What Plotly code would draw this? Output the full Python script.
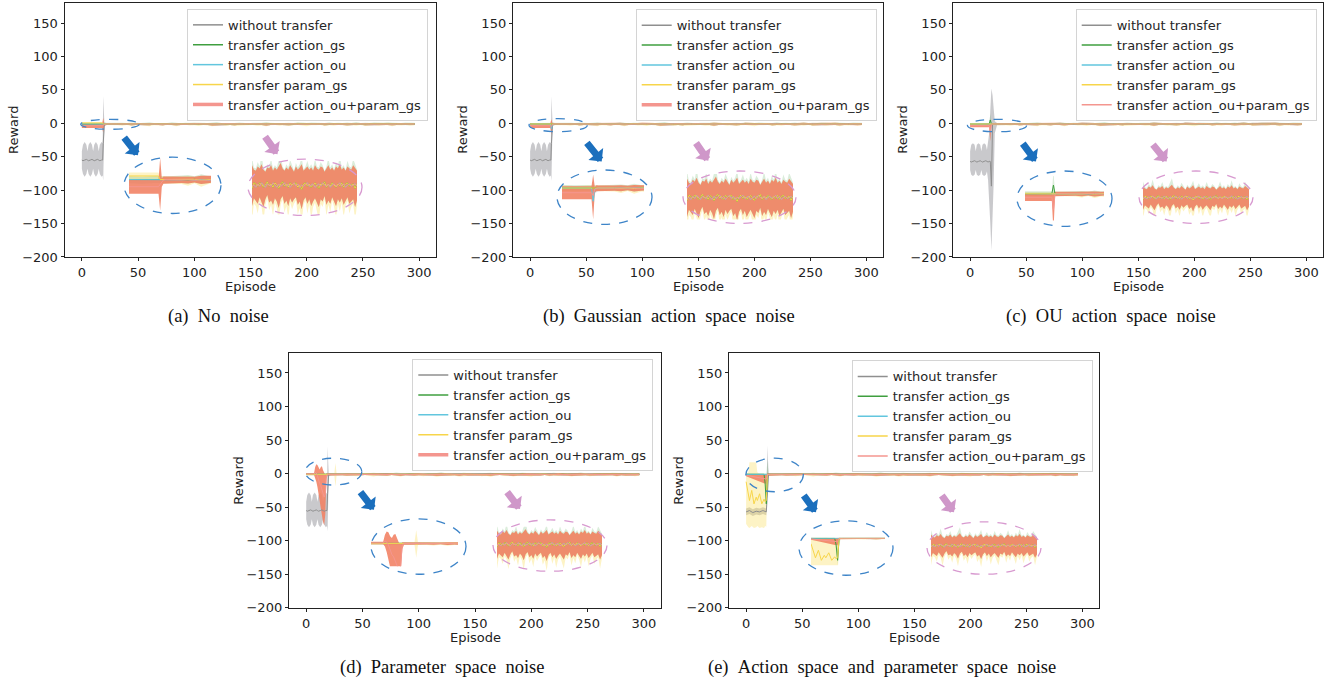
import plotly.graph_objects as go

W, H = 1341, 689
FONT = "DejaVu Sans"
SERIF = "Liberation Serif"

# ------------------------------------------------------------------ data
LEGEND_LABELS = ["without transfer", "transfer action_gs", "transfer action_ou",
                 "transfer param_gs", "transfer action_ou+param_gs"]
CAPTIONS = ["(a) No noise", "(b) Gaussian action space noise", "(c) OU action space noise",
            "(d) Parameter space noise", "(e) Action space and parameter space noise"]
X_TICKS = [0, 50, 100, 150, 200, 250, 300]
Y_TICKS = [-200, -150, -100, -50, 0, 50, 100, 150]

# converged phase (episodes 32..296), shared by all panels
LATE_EP = list(range(32, 300, 4))
LATE_HI = [0.3, 0.5, 0.2, 0.6, 0.4, 0.1, 0.5, 0.7, 0.3, 0.2,
           0.6, 0.4, 0.8, 0.3, 0.1, 0.5, 0.4, 0.7, 0.2, 0.5,
           0.3, 0.6, 0.9, 0.4, 0.2, 0.5, 0.3, 0.7, 0.4, 0.1,
           0.6, 0.3, 0.5, 0.8, 0.2, 0.4, 0.6, 0.3, 0.5, 0.2,
           0.7, 0.4, 0.3, 0.6, 0.5, 0.1, 0.4, 0.7, 0.3, 0.5,
           0.2, 0.6, 0.4, 0.8, 0.3, 0.5, 0.2, 0.6, 0.4, 0.3,
           0.7, 0.5, 0.2, 0.4, 0.6, 0.3, 0.5]
LATE_LO = [-2.4, -2.7, -2.2, -2.9, -2.5, -2.1, -2.6, -3.0, -2.3, -2.5,
           -2.8, -2.2, -2.6, -3.1, -2.4, -2.0, -2.7, -2.5, -2.9, -2.3,
           -2.6, -3.2, -2.4, -2.1, -2.8, -2.5, -3.0, -2.3, -2.7, -2.4,
           -2.2, -2.9, -2.6, -3.3, -2.5, -2.2, -2.8, -2.4, -3.0, -2.6,
           -2.3, -2.7, -3.1, -2.4, -2.6, -2.1, -2.9, -2.5, -2.8, -2.2,
           -2.6, -3.0, -2.4, -2.7, -2.3, -2.9, -2.5, -2.2, -2.8, -2.6,
           -2.4, -3.1, -2.5, -2.7, -2.3, -2.8, -2.5]
LATE_FHI = [0.7, 0.9, 0.4, 1.2, 0.6, 0.3, 0.8, 1.4, 0.5, 0.4,
            1.0, 0.6, 1.7, 0.5, 0.2, 0.8, 0.6, 1.3, 0.4, 0.7,
            0.5, 1.1, 1.9, 0.6, 0.3, 0.8, 0.5, 1.2, 0.7, 0.2,
            0.9, 0.5, 0.8, 1.5, 0.3, 0.6, 1.1, 0.5, 0.8, 0.4,
            1.3, 0.6, 0.5, 1.0, 0.7, 0.2, 0.6, 1.4, 0.5, 0.8,
            0.3, 1.0, 0.6, 1.6, 0.5, 0.7, 0.3, 1.1, 0.6, 0.5,
            1.3, 0.8, 0.3, 0.6, 1.0, 0.5, 0.7]
LATE_FLO = [-2.9, -3.6, -2.6, -4.0, -3.0, -2.4, -3.2, -4.3, -2.8, -3.0,
            -3.7, -2.6, -3.1, -4.4, -2.9, -2.3, -3.4, -2.9, -3.9, -2.7,
            -3.2, -4.5, -2.9, -2.4, -3.6, -3.0, -4.1, -2.7, -3.3, -2.8,
            -2.5, -3.8, -3.2, -4.6, -2.9, -2.5, -3.7, -2.8, -4.2, -3.1,
            -2.7, -3.4, -4.3, -2.8, -3.1, -2.4, -3.9, -2.9, -3.6, -2.5,
            -3.1, -4.1, -2.8, -3.5, -2.7, -4.0, -3.0, -2.5, -3.7, -3.1,
            -2.8, -4.3, -2.9, -3.4, -2.6, -3.8, -3.0]
LATE_MEAN_A = [-1.0, -1.2, -0.9, -1.3, -1.0, -0.8, -1.1, -1.4, -0.9, -1.0,
               -1.2, -0.9, -1.0, -1.3, -1.1, -0.8, -1.2, -1.0, -1.3, -0.9,
               -1.1, -1.4, -1.0, -0.8, -1.2, -1.0, -1.3, -0.9, -1.1, -1.0,
               -0.9, -1.3, -1.1, -1.5, -1.0, -0.9, -1.2, -1.0, -1.3, -1.1,
               -0.9, -1.2, -1.4, -1.0, -1.1, -0.8, -1.3, -1.0, -1.2, -0.9,
               -1.1, -1.3, -1.0, -1.2, -0.9, -1.3, -1.0, -0.9, -1.2, -1.1,
               -1.0, -1.4, -1.0, -1.2, -0.9, -1.2, -1.0]
LATE_MEAN_B = [-1.1, -1.0, -1.2, -1.0, -1.3, -1.0, -0.9, -1.2, -1.1, -1.3,
               -1.0, -1.2, -0.9, -1.1, -1.3, -1.0, -1.1, -1.2, -0.9, -1.1,
               -1.3, -1.0, -1.2, -1.1, -0.9, -1.2, -1.0, -1.3, -1.1, -0.9,
               -1.2, -1.0, -1.3, -1.1, -1.2, -1.0, -0.9, -1.2, -1.1, -1.0,
               -1.3, -1.1, -1.0, -1.2, -0.9, -1.1, -1.2, -1.0, -1.3, -1.1,
               -1.0, -1.2, -1.1, -0.9, -1.2, -1.0, -1.3, -1.1, -1.0, -1.2,
               -1.1, -1.0, -1.2, -1.1, -1.3, -1.0, -1.1]

# early phase key points (episode, mean, lower, upper)
BASE_X = [0, 8, 16, 22]
BASE_MEAN = [-1.0, -1.1, -0.9, -1.0]
BASE_HI = [0.4, 0.2, 0.5, 0.3]
BASE_LO = [-2.5, -2.8, -2.4, -2.6]

WT_BASE_X = [0, 1, 2.5, 4, 5, 6, 7.5, 9, 10, 11, 12.5, 14, 15, 16, 17.5, 18.5, 19, 20, 22]
WT_BASE_MEAN = [-55, -56, -55, -54, -55, -56, -55, -54, -55, -56, -55, -54, -55, -56, -55, -55, -30, -1.5, -1.0]
WT_BASE_HI = [-42, -32, -28, -32, -42, -32, -28, -32, -42, -32, -28, -32, -42, -32, -28, -30, 41, 1.0, 0.3]
WT_BASE_LO = [-68, -76, -80, -76, -68, -76, -80, -76, -68, -76, -80, -76, -68, -76, -80, -78, -86, -4.0, -2.6]

WT_C_X = [0, 1, 2.5, 4, 5, 6, 7.5, 9, 10, 11, 12.5, 14, 15, 16, 17, 18, 19, 20, 21, 22, 24]
WT_C_MEAN = [-57, -58, -57, -56, -57, -58, -57, -56, -57, -58, -57, -56, -57, -58, -57, -57, -94, -2.0, -1.5, -1.2, -1.0]
WT_C_HI = [-42, -32, -30, -32, -42, -32, -30, -32, -42, -32, -30, -32, -40, -30, -15, 20, 52, 42, 15, 3, 0.5]
WT_C_LO = [-70, -77, -79, -77, -70, -77, -79, -77, -70, -77, -79, -77, -72, -85, -105, -150, -190, -165, -90, -15, -3]

WT_E_X = [0, 3, 6, 9, 12, 15, 18, 19, 20, 22]
WT_E_MEAN = [-57, -55, -58, -56, -57, -55, -57, -20, -1.5, -1.0]
WT_E_HI = [-52, -50, -53, -51, -52, -50, -52, 42, 1.0, 0.3]
WT_E_LO = [-62, -60, -63, -61, -62, -60, -62, -12, -3.0, -2.6]

MIX_A_X = [0, 18, 19, 20, 21, 22]
MIX_A_MEAN = [-4.0, -4.0, -3.0, -1.8, -1.2, -1.0]
MIX_A_HI = [-1.0, -1.0, 8.0, -0.5, 0.3, 0.3]
MIX_A_LO = [-7.0, -7.0, -14.0, -4.0, -2.8, -2.6]

PGS_A_X = [0, 18, 19, 22]
PGS_A_MEAN = [0.5, 0.5, -1.0, -1.0]
PGS_A_HI = [2.0, 2.0, 0.5, 0.3]
PGS_A_LO = [-1.0, -1.0, -2.5, -2.6]

MIX_B_X = [0, 18, 19, 20, 21, 22]
MIX_B_MEAN = [-3.5, -3.5, -5.0, -1.5, -1.1, -1.0]
MIX_B_HI = [0.0, 0.0, 6.0, -0.5, 0.4, 0.3]
MIX_B_LO = [-7.0, -7.0, -17.5, -3.5, -2.7, -2.6]

AOU_B_X = [0, 18, 19, 20, 22]
AOU_B_MEAN = [-1.0, -1.0, -8.0, -1.5, -1.0]
AOU_B_HI = [0.5, 0.5, 0.0, 0.5, 0.3]
AOU_B_LO = [-2.5, -2.5, -14.0, -4.0, -2.6]

MIX_C_X = [0, 17, 18, 19, 20, 22]
MIX_C_MEAN = [-3.5, -3.5, -12.0, -1.5, -1.1, -1.0]
MIX_C_HI = [-1.0, -1.0, -0.5, 0.4, 0.3, 0.3]
MIX_C_LO = [-6.0, -6.0, -27.0, -2.8, -2.6, -2.6]

AGS_C_X = [0, 17, 18, 19, 22]
AGS_C_MEAN = [-1.0, -1.0, 5.0, -1.2, -1.0]
AGS_C_HI = [0.5, 0.5, 14.0, 0.4, 0.3]
AGS_C_LO = [-2.5, -2.5, -2.0, -2.6, -2.6]

MIX_D_X = [0, 7, 8, 9, 10, 11, 12, 13, 14, 15, 16, 17, 18, 19, 22]
MIX_D_MEAN = [-0.5, -0.5, 2, 1, -3, -10, -15, -18, -25, -30, -35, -30, -3, -1.1, -1.0]
MIX_D_HI = [1, 1, 10, 14, 13, 8, 6, 10, 11, 5, 0, -2, 0.5, 0.4, 0.3]
MIX_D_LO = [-2, -2, -5, -12, -20, -30, -40, -50, -62, -72, -77, -60, -8, -2.6, -2.6]

PGS_D_X = [0, 22, 25, 26, 27, 28]
PGS_D_MEAN = [-1.0, -1.0, -1.0, -2.0, -1.0, -1.0]
PGS_D_HI = [0.3, 0.3, 0.3, 16.0, 0.3, 0.3]
PGS_D_LO = [-2.6, -2.6, -2.6, -19.0, -2.6, -2.6]

MIX_E_X = [0, 17, 18, 19, 20, 22]
MIX_E_MEAN = [-2.5, -8.0, -8.0, -1.2, -1.0, -1.0]
MIX_E_HI = [-1.0, -1.0, -1.0, 0.4, 0.3, 0.3]
MIX_E_LO = [-4.0, -15.0, -15.0, -3.0, -2.6, -2.6]

PGS_E_X = [0, 2, 3, 5, 7, 9, 10, 12, 14, 16, 17, 18, 19, 22]
PGS_E_MEAN = [-12, -30, -40, -25, -45, -35, -40, -30, -45, -38, -42, -40, -1.2, -1.0]
PGS_E_HI = [0, 2, 17, 17, 17, 17, 2, 0, 0, 0, 0, 0, 0.5, 0.3]
PGS_E_LO = [-75, -80, -81, -78, -81, -80, -78, -81, -80, -81, -78, -79, -3, -2.6]

AGS_E_X = [0, 16, 17, 18, 19, 20, 22]
AGS_E_MEAN = [-1.0, -1.0, -15.0, -45.0, -1.0, -1.0, -1.0]
AGS_E_HI = [0.5, 0.5, 0.0, 0.0, 20.0, 0.4, 0.3]
AGS_E_LO = [-2.5, -2.5, -30.0, -55.0, -16.0, -2.6, -2.6]

# ------------------------------------------------------------------ assembly
BASE = (BASE_X, BASE_MEAN, BASE_LO, BASE_HI)
WT_BASE = (WT_BASE_X, WT_BASE_MEAN, WT_BASE_LO, WT_BASE_HI)
PANEL_SERIES = [
    [WT_BASE, BASE, BASE, (PGS_A_X, PGS_A_MEAN, PGS_A_LO, PGS_A_HI), (MIX_A_X, MIX_A_MEAN, MIX_A_LO, MIX_A_HI)],
    [WT_BASE, BASE, (AOU_B_X, AOU_B_MEAN, AOU_B_LO, AOU_B_HI), BASE, (MIX_B_X, MIX_B_MEAN, MIX_B_LO, MIX_B_HI)],
    [(WT_C_X, WT_C_MEAN, WT_C_LO, WT_C_HI), (AGS_C_X, AGS_C_MEAN, AGS_C_LO, AGS_C_HI), BASE, BASE,
     (MIX_C_X, MIX_C_MEAN, MIX_C_LO, MIX_C_HI)],
    [WT_BASE, BASE, BASE, (PGS_D_X, PGS_D_MEAN, PGS_D_LO, PGS_D_HI), (MIX_D_X, MIX_D_MEAN, MIX_D_LO, MIX_D_HI)],
    [(WT_E_X, WT_E_MEAN, WT_E_LO, WT_E_HI), (AGS_E_X, AGS_E_MEAN, AGS_E_LO, AGS_E_HI), BASE,
     (PGS_E_X, PGS_E_MEAN, PGS_E_LO, PGS_E_HI), (MIX_E_X, MIX_E_MEAN, MIX_E_LO, MIX_E_HI)],
]
# late-phase band / mean source per series: WT, AGS, AOU, PGS, MIX
LATE_BANDS = [(LATE_LO, LATE_HI), (LATE_LO, LATE_FHI), (LATE_LO, LATE_HI), (LATE_FLO, LATE_HI), (LATE_LO, LATE_HI)]
LATE_MEANS = [LATE_MEAN_B, LATE_MEAN_A, LATE_MEAN_B, LATE_MEAN_A, LATE_MEAN_B]

# ------------------------------------------------------------------ styles / layout (pixel specs)
LINE_COLORS = ["#8f8f8f", "#3f9f3f", "#62c6de", "#f7d54a", "#f4968f"]
FILL_COLORS = ["rgba(178,178,182,0.70)", "rgba(90,175,90,0.22)", "rgba(110,200,225,0.25)",
               "rgba(250,225,110,0.40)", "rgba(241,128,98,0.88)"]
BLUE, PINK = "#3d84c8", "#d89ad0"
ARROW_BLUE, ARROW_PINK = "#1b6fbd", "#cf97c9"

PANELS = [
    dict(ax=(65, 436, 3, 260), leg=(428, 9), legw=3.5, cap=(218, 320), ep_y=290, rw_x=14,
         mell=(-1, 51, -9, 6),
         bin=(129, 211, 158, 214, -14.4, 8.8), bell=(124, 221, 159, 216), barr=(123, 138, 138, 157),
         pin=(252, 357, 163, 217, -3.78, 1.08), pell=(248, 362, 161, 218), parr=(264, 137, 277.5, 156)),
    dict(ax=(513.3, 883.3, 3, 260), leg=(876.7, 9.3), legw=3.5, cap=(668.5, 320), ep_y=290, rw_x=462.7,
         mell=(-1, 51, -12.5, 7),
         bin=(562, 644, 174, 224, -18.7, 7.5), bell=(557, 652, 172, 227), barr=(585.7, 143.3, 601.7, 163.3),
         pin=(687, 793, 176, 222, -3.23, 1.16), pell=(683, 796, 173, 226), parr=(695, 143.3, 708.3, 162.7)),
    dict(ax=(953.3, 1323.3, 3, 260), leg=(1316.7, 9.3), legw=1.5, cap=(1111, 320), ep_y=290, rw_x=902.7,
         mell=(-2.4, 50.4, -12.7, 6),
         bin=(1025, 1104, 178, 223, -19.5, 11.3), bell=(1017, 1112, 173, 229), barr=(1021.7, 144, 1036, 163.3),
         pin=(1143, 1249, 180, 218, -3.9, 1.95), pell=(1139, 1253, 173, 226), parr=(1151.7, 145, 1166.7, 163.3)),
    dict(ax=(289.3, 660.7, 357, 615), leg=(653.3, 363.3), legw=3.5, cap=(442, 675), ep_y=645, rw_x=238.3,
         mell=(-1, 49.4, -17, 23),
         bin=(371, 458, 533, 573, -30, 20), bell=(371, 466, 525, 581), barr=(359.3, 496.7, 374, 515.7),
         pin=(497, 602, 533, 578, -4.66, 1.21), pell=(493, 607, 526, 578), parr=(506, 496.7, 520, 515)),
    dict(ax=(729.3, 1099.3, 357, 615), leg=(1092.7, 364.7), legw=1.5, cap=(881.7, 675), ep_y=645, rw_x=678.3,
         mell=(-0.3, 51, -27, 23),
         bin=(811, 885, 544, 572, -55, 0), bell=(799, 893, 527, 582), barr=(802.7, 500, 816, 518.3),
         pin=(931, 1037, 530, 574, -4.66, 2.45), pell=(927, 1041, 528, 581), parr=(940.7, 500, 954, 518.3)),
]
BLUE_XRANGE = [0, 50]
PINK_XRANGE = [60, 280]


def pxx(p):
    return p / W


def pxy(p):
    return 1 - p / H


def refs(n):
    return ("x" if n == 1 else f"x{n}"), ("y" if n == 1 else f"y{n}")


def keys(n):
    return ("xaxis" if n == 1 else f"xaxis{n}"), ("yaxis" if n == 1 else f"yaxis{n}")


fig = go.Figure()
layout = dict(width=W, height=H, margin=dict(l=0, r=0, t=0, b=0),
              paper_bgcolor="white", plot_bgcolor="rgba(0,0,0,0)", showlegend=True)
shapes, annotations = [], []

for si, (panel, series) in enumerate(zip(PANELS, PANEL_SERIES)):
    main_n, blue_n, pink_n = si + 1, si + 6, si + 11
    full = []
    for k, (ex, em, elo, ehi) in enumerate(series):
        lo_late, hi_late = LATE_BANDS[k]
        fx = list(ex) + LATE_EP
        full.append((fx, list(em) + LATE_MEANS[k], list(elo) + lo_late, list(ehi) + hi_late))

    for n in (main_n, blue_n, pink_n):
        xr, yr = refs(n)
        members = range(5) if n == main_n else range(1, 5)   # zoom insets show the transfer runs
        for k in members:
            fx, fm, flo, fhi = full[k]
            fig.add_trace(go.Scatter(x=fx + fx[::-1], y=fhi + flo[::-1], fill="toself",
                                     fillcolor=FILL_COLORS[k], line=dict(width=0), mode="lines",
                                     hoverinfo="skip", showlegend=False, xaxis=xr, yaxis=yr))
        for k in members:
            fx, fm, flo, fhi = full[k]
            fig.add_trace(go.Scatter(x=fx, y=fm, mode="lines", line=dict(color=LINE_COLORS[k], width=1),
                                     hoverinfo="skip", showlegend=False, xaxis=xr, yaxis=yr))

    # legend entries
    lname = "legend" if si == 0 else f"legend{si + 1}"
    xr, yr = refs(main_n)
    for k in range(5):
        fig.add_trace(go.Scatter(x=[None], y=[None], mode="lines", name=LEGEND_LABELS[k],
                                 line=dict(color=LINE_COLORS[k], width=panel["legw"] if k == 4 else 1.5),
                                 legend=lname, xaxis=xr, yaxis=yr))
    layout[lname] = dict(x=pxx(panel["leg"][0]), y=pxy(panel["leg"][1]), xanchor="right", yanchor="top",
                         bgcolor="rgba(255,255,255,0.85)", bordercolor="#d4d4d4", borderwidth=1,
                         font=dict(family=FONT, size=13, color="#262626"), itemwidth=30,
                         traceorder="normal", tracegroupgap=0)

    # main axes
    x0, x1, y0, y1 = panel["ax"]
    kx, ky = keys(main_n)
    common = dict(ticks="outside", ticklen=3.5, tickwidth=1, tickcolor="#222", showline=True, linecolor="#222",
                  linewidth=1, mirror=True, showgrid=False, zeroline=False,
                  tickfont=dict(family=FONT, size=13, color="#222"))
    layout[kx] = dict(domain=[pxx(x0), pxx(x1)], range=[-15, 315], tickvals=X_TICKS,
                      anchor=refs(main_n)[1], **common)
    layout[ky] = dict(domain=[pxy(y1), pxy(y0)], range=[-200, 180], tickvals=Y_TICKS,
                      anchor=refs(main_n)[0], **common)

    # inset axes
    for n, spec, xrange_ in ((blue_n, panel["bin"], BLUE_XRANGE), (pink_n, panel["pin"], PINK_XRANGE)):
        ix0, ix1, iy0, iy1, ylo, yhi = spec
        kx, ky = keys(n)
        hidden = dict(showticklabels=False, showline=False, showgrid=False, zeroline=False, ticks="")
        layout[kx] = dict(domain=[pxx(ix0), pxx(ix1)], range=xrange_, anchor=refs(n)[1], **hidden)
        layout[ky] = dict(domain=[pxy(iy1), pxy(iy0)], range=[ylo, yhi], anchor=refs(n)[0], **hidden)

    # ellipses
    mx0, mx1, my0, my1 = panel["mell"]
    xr, yr = refs(main_n)
    shapes.append(dict(type="circle", xref=xr, yref=yr, x0=mx0, x1=mx1, y0=my0, y1=my1,
                       line=dict(color=BLUE, width=1.3, dash="dash")))
    for ell, col in ((panel["bell"], BLUE), (panel["pell"], PINK)):
        ex0, ex1, ey0, ey1 = ell
        shapes.append(dict(type="circle", xref="paper", yref="paper", x0=pxx(ex0), x1=pxx(ex1),
                           y0=pxy(ey1), y1=pxy(ey0), line=dict(color=col, width=1.3, dash="dash")))
    # arrows
    for arr, col in ((panel["barr"], ARROW_BLUE), (panel["parr"], ARROW_PINK)):
        tx, ty, hx, hy = arr
        annotations.append(dict(x=pxx(hx), y=pxy(hy), xref="paper", yref="paper", text="",
                                showarrow=True, ax=tx - hx, ay=ty - hy, arrowcolor=col,
                                arrowwidth=7, arrowhead=1, arrowsize=0.45, standoff=0))
    # axis titles and caption
    txt = dict(xref="paper", yref="paper", showarrow=False, xanchor="center", yanchor="middle")
    annotations.append(dict(x=pxx((x0 + x1) / 2), y=pxy(panel["ep_y"]), text="Episode",
                            font=dict(family=FONT, size=13, color="#222"), **txt))
    annotations.append(dict(x=pxx(panel["rw_x"]), y=pxy((y0 + y1) / 2), text="Reward", textangle=-90,
                            font=dict(family=FONT, size=13, color="#222"), **txt))
    annotations.append(dict(x=pxx(panel["cap"][0]), y=pxy(panel["cap"][1]),
                            text=CAPTIONS[si].replace(" ", "\u00a0\u00a0"),
                            font=dict(family=SERIF, size=18.5, color="#111"), **txt))

layout["shapes"] = shapes
layout["annotations"] = annotations
fig.update_layout(**layout)
fig.write_html("out.html", config={"displayModeBar": False},
               post_script="document.body.style.margin='0px';document.body.style.overflow='hidden';")
